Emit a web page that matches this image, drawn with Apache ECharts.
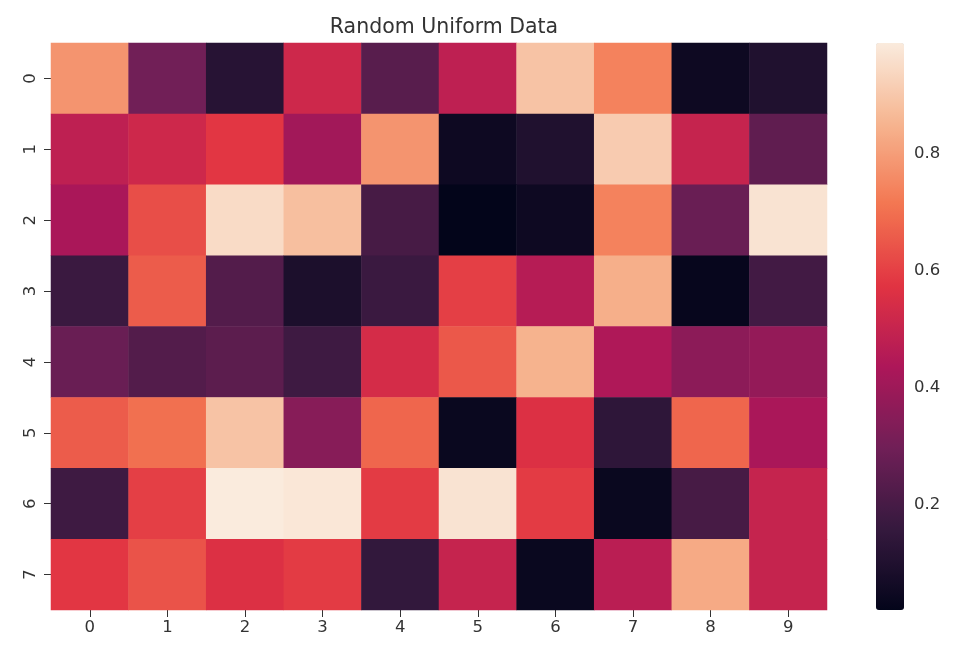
<!DOCTYPE html>
<html>
<head>
<meta charset="utf-8">
<script src="https://cdn.jsdelivr.net/npm/echarts@6/dist/echarts.min.js"></script>
<style>html,body{margin:0;padding:0;background:#fff;}#c{width:968px;height:662px;}</style>
</head>
<body>
<div id="c"></div>
<script>
const xLabels = ['0','1','2','3','4','5','6','7','8','9'];
const yLabels = ['0','1','2','3','4','5','6','7'];
const row0 = [0.78,0.30,0.12,0.52,0.24,0.48,0.89,0.74,0.05,0.10];
const row1 = [0.48,0.52,0.58,0.41,0.78,0.05,0.10,0.91,0.50,0.26];
const row2 = [0.43,0.63,0.95,0.88,0.20,0.02,0.05,0.74,0.28,0.97];
const row3 = [0.17,0.66,0.23,0.09,0.17,0.60,0.46,0.84,0.03,0.19];
const row4 = [0.28,0.23,0.25,0.18,0.54,0.65,0.85,0.44,0.36,0.38];
const row5 = [0.66,0.70,0.89,0.35,0.68,0.04,0.56,0.14,0.68,0.43];
const row6 = [0.18,0.60,0.99,0.98,0.59,0.97,0.59,0.04,0.20,0.50];
const row7 = [0.58,0.64,0.56,0.59,0.15,0.50,0.04,0.47,0.83,0.50];
const rows = [row0,row1,row2,row3,row4,row5,row6,row7];
const colorbarTicks = [0.2,0.4,0.6,0.8];
const vMin = 0.02, vMax = 0.99;
const rocket = ['#03051A','#35193E','#701F57','#AD1759','#E13342','#F37651','#F6B48F','#FAEBDD'];

const data = [];
rows.forEach((r, yi) => r.forEach((v, xi) => data.push([xi, yi, v])));

const txt = '#333333';
const fs = 16.5;
const chart = echarts.init(document.getElementById('c'));
chart.setOption({
  backgroundColor: '#fff',
  animation: false,
  title: {
    text: 'Random Uniform Data',
    left: 439, top: 12, textAlign: 'center',
    textStyle: {fontFamily: 'DejaVu Sans', fontSize: 20.5, fontWeight: 'normal', color: txt}
  },
  grid: [
    {left: 51, right: 141, top: 43, bottom: 52},
    {left: 876, width: 28, top: 43, bottom: 52}
  ],
  xAxis: [
    {type: 'category', data: xLabels, gridIndex: 0,
     axisLine: {show: false}, splitLine: {show: false},
     axisTick: {show: true, alignWithLabel: true, length: 7, lineStyle: {color: txt}},
     axisLabel: {fontFamily: 'DejaVu Sans', fontSize: fs, color: txt, margin: 9}},
    {type: 'value', gridIndex: 1, show: false}
  ],
  yAxis: [
    {type: 'category', data: yLabels, inverse: true, gridIndex: 0,
     axisLine: {show: false}, splitLine: {show: false},
     axisTick: {show: true, alignWithLabel: true, length: 7, lineStyle: {color: txt}},
     axisLabel: {fontFamily: 'DejaVu Sans', fontSize: fs, color: txt, rotate: 90, margin: 12}},
    {type: 'value', gridIndex: 1, position: 'right', min: vMin, max: vMax,
     axisLine: {show: false}, splitLine: {show: false},
     axisTick: {show: true, length: 7, customValues: colorbarTicks, lineStyle: {color: txt}},
     axisLabel: {fontFamily: 'DejaVu Sans', fontSize: fs, color: txt, margin: 10,
                 customValues: colorbarTicks, formatter: v => v.toFixed(1)}}
  ],
  visualMap: {
    type: 'continuous', min: vMin, max: vMax, seriesIndex: 0,
    left: 876, top: 43, itemWidth: 28, itemHeight: 567, padding: 0,
    calculable: false, realtime: false, text: null, showLabel: false,
    hoverLink: false,
    inRange: {color: rocket}
  },
  series: [{
    type: 'heatmap', xAxisIndex: 0, yAxisIndex: 0, data: data,
    itemStyle: {borderWidth: 0},
    emphasis: {disabled: true}
  }]
});
</script>
</body>
</html>
